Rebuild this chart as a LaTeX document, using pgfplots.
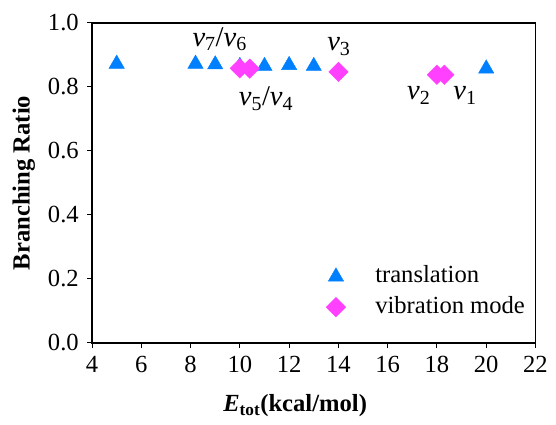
\documentclass[border=0pt]{standalone}
\usepackage{fontspec}
\setmainfont{Liberation Serif}
\usepackage{pgfplots}
\pgfplotsset{compat=1.18}
\definecolor{tblue}{RGB}{0,128,255}
\definecolor{vmag}{RGB}{255,64,255}
\begin{document}
\fontsize{25}{30}\selectfont
\begin{tikzpicture}
\begin{axis}[
  scale only axis, width=450.5pt, height=325pt,
  xmin=4, xmax=22, ymin=0, ymax=1,
  xtick={4,6,8,10,12,14,16,18,20,22},
  ytick={0,0.2,0.4,0.6,0.8,1.0},
  tick align=outside, tick pos=left, major tick length=5pt,
  axis line style={line width=1.6pt},
  tick style={line width=1pt, black},
  /pgf/number format/assume math mode=true,
  yticklabel style={/pgf/number format/.cd, fixed, fixed zerofill, precision=1},
  every tick label/.append style={font=\fontsize{25}{30}\selectfont},
  ylabel={\bfseries Branching Ratio},
  ylabel style={at={(axis description cs:-0.154,0.5)}, anchor=center, font=\fontsize{25}{30}\selectfont},
  xlabel={{\bfseries\itshape E}\textsubscript{\bfseries tot}{\bfseries (kcal/mol)}},
  xlabel style={at={(axis description cs:0.458,-0.2145)}, anchor=base, font=\fontsize{25}{30}\selectfont},
  legend style={draw=none, fill=none, at={(axis description cs:0.521,0.2505)}, anchor=north west,
    font=\fontsize{25}{30}\selectfont, row sep=7pt,
    nodes={inner sep=1pt, text height=17pt, text depth=5pt},
    /tikz/every odd column/.append style={column sep=29pt}},
  legend cell align=left,
]
\addplot[only marks, mark=triangle*, mark size=9pt, color=tblue, mark options={fill=tblue, draw=tblue}]
  coordinates {(5,0.872) (8.2,0.872) (9,0.870) (10,0.865) (11,0.865) (12,0.868) (13,0.865) (20,0.857)};
\addlegendentry{translation}
\addplot[only marks, mark=square*, mark size=7pt, color=vmag, mark options={fill=vmag, draw=vmag, rotate=45}]
  coordinates {(10,0.858) (10.4,0.857) (14,0.847) (18,0.838) (18.3,0.838)};
\addlegendentry{vibration mode}
\node[font=\fontsize{29}{34}\selectfont] at (axis cs:9.18,0.949) {\textit{v}\textsubscript{7}/\textit{v}\textsubscript{6}};
\node[font=\fontsize{29}{34}\selectfont] at (axis cs:11.06,0.764) {\textit{v}\textsubscript{5}/\textit{v}\textsubscript{4}};
\node[font=\fontsize{29}{34}\selectfont] at (axis cs:14.02,0.927) {\textit{v}\textsubscript{3}};
\node[font=\fontsize{29}{34}\selectfont] at (axis cs:17.26,0.773) {\textit{v}\textsubscript{2}};
\node[font=\fontsize{29}{34}\selectfont] at (axis cs:19.14,0.773) {\textit{v}\textsubscript{1}};
\end{axis}
\path (current axis.south west) ++(-93.5pt,-78.7pt) rectangle ++(556pt,427pt);
\end{tikzpicture}
\end{document}
